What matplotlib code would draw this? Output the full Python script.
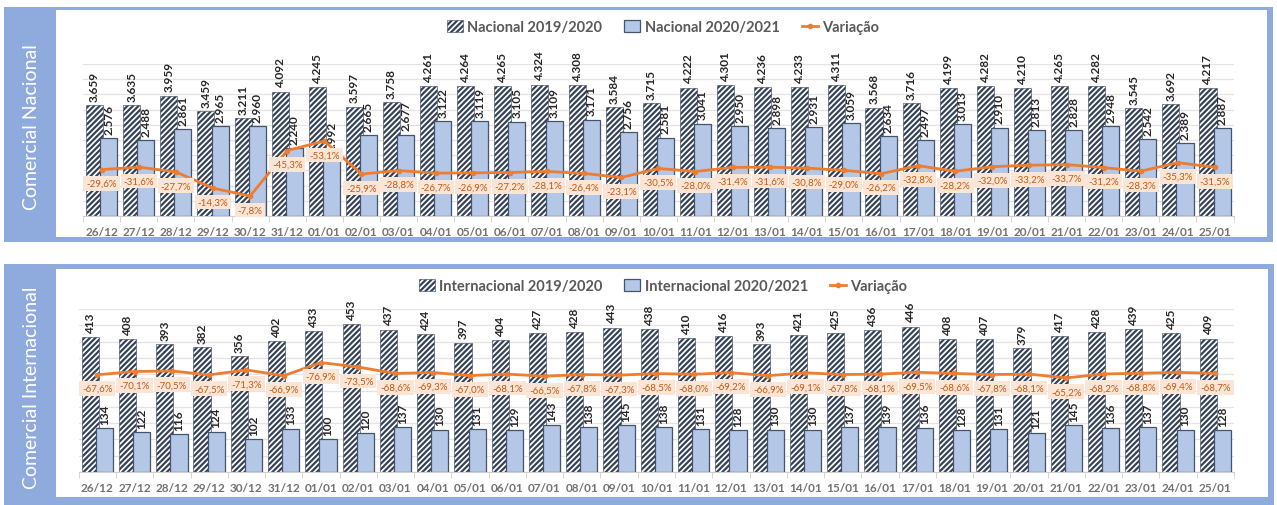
import matplotlib
matplotlib.use("Agg")
import matplotlib.pyplot as plt
import matplotlib.patches as mpatches
from matplotlib.lines import Line2D
import numpy as np

plt.rcParams['font.family'] = ['Lato', 'DejaVu Sans']
plt.rcParams['hatch.linewidth'] = 1.6

datas = ['26/12', '27/12', '28/12', '29/12', '30/12', '31/12', '01/01', '02/01', '03/01',
         '04/01', '05/01', '06/01', '07/01', '08/01', '09/01', '10/01', '11/01', '12/01',
         '13/01', '14/01', '15/01', '16/01', '17/01', '18/01', '19/01', '20/01', '21/01',
         '22/01', '23/01', '24/01', '25/01']

nac_1920 = [3659, 3635, 3959, 3459, 3211, 4092, 4245, 3597, 3758, 4261, 4264, 4265, 4324,
            4308, 3584, 3715, 4222, 4301, 4236, 4233, 4311, 3568, 3716, 4199, 4282, 4210,
            4265, 4282, 3545, 3692, 4217]
nac_2021 = [2576, 2488, 2861, 2965, 2960, 2240, 1992, 2665, 2677, 3122, 3119, 3105, 3109,
            3171, 2756, 2581, 3041, 2950, 2898, 2931, 3059, 2634, 2497, 3013, 2910, 2813,
            2828, 2948, 2542, 2389, 2887]
nac_var = [-29.6, -31.6, -27.7, -14.3, -7.8, -45.3, -53.1, -25.9, -28.8, -26.7, -26.9, -27.2,
           -28.1, -26.4, -23.1, -30.5, -28.0, -31.4, -31.6, -30.8, -29.0, -26.2, -32.8, -28.2,
           -32.0, -33.2, -33.7, -31.2, -28.3, -35.3, -31.5]

int_1920 = [413, 408, 393, 382, 356, 402, 433, 453, 437, 424, 397, 404, 427, 428, 443, 438,
            410, 416, 393, 421, 425, 436, 446, 408, 407, 379, 417, 428, 439, 425, 409]
int_2021 = [134, 122, 116, 124, 102, 133, 100, 120, 137, 130, 131, 129, 143, 138, 145, 138,
            131, 128, 130, 130, 137, 139, 136, 128, 131, 121, 145, 136, 137, 130, 128]
int_var = [-67.6, -70.1, -70.5, -67.5, -71.3, -66.9, -76.9, -73.5, -68.6, -69.3, -67.0, -68.1,
           -66.5, -67.8, -67.3, -68.5, -68.0, -69.2, -66.9, -69.1, -67.8, -68.1, -69.5, -68.6,
           -67.8, -68.1, -65.2, -68.2, -68.8, -69.4, -68.7]

W, H = 1277, 506
FRAME = '#8FAADC'
HATCH_C = '#354257'
BLUE = '#B4C7E7'
ORANGE = '#ED7D31'

fig = plt.figure(figsize=(W / 100, H / 100), dpi=100)


def px_rect(x0, y0, x1, y1, color):
    fig.add_artist(mpatches.Rectangle((x0 / W, 1 - y1 / H), (x1 - x0) / W, (y1 - y0) / H,
                                      transform=fig.transFigure, facecolor=color,
                                      edgecolor='none', zorder=0))


def fmt_num(v):
    return f"{v:,}".replace(",", ".")


def fmt_pct(v):
    return f"{v:.1f}%".replace(".", ",")


def painel(box, y_max, y_step, var_lim, anterior, atual, var, titulo, frame_px, white_px):
    px_rect(*frame_px, FRAME)
    px_rect(*white_px, 'white')
    fx0, fy0, fx1, fy1 = frame_px
    fig.text(32 / W, 1 - ((fy0 + fy1) / 2 + 2) / H, titulo, rotation=90, color='white',
             fontsize=14, ha='center', va='center')

    ax = fig.add_axes(box)
    ax.set_facecolor('none')
    x = np.arange(len(datas))
    b1 = ax.bar(x - 0.19, anterior, width=0.46, facecolor='white', edgecolor=HATCH_C,
                hatch='//////', linewidth=0.4, zorder=2)
    b2 = ax.bar(x + 0.19, atual, width=0.46, facecolor=BLUE, edgecolor='#44546A',
                linewidth=0.9, zorder=3)
    ax.set_ylim(0, y_max)
    ax.set_xlim(-0.5, len(datas) - 0.5)
    ax.set_yticks(np.arange(0, y_max + 1, y_step))
    ax.yaxis.grid(True, color='#E3E3E3', linewidth=0.9)
    ax.set_axisbelow(True)
    for s in ['top', 'right', 'left']:
        ax.spines[s].set_visible(False)
    ax.spines['bottom'].set_color('#D0D0D0')
    ax.set_xticks(x)
    ax.set_xticklabels(datas, fontsize=8.5, fontweight='bold', color='#767171')
    ax.tick_params(axis='x', length=0, pad=7)
    ax.set_xticks(np.arange(-0.5, len(datas), 1), minor=True)
    ax.tick_params(axis='x', which='minor', length=4, color='#D0D0D0')

    for rect, v in zip(b1, anterior):
        ax.annotate(fmt_num(v), (rect.get_x() + rect.get_width() / 2, rect.get_height()),
                    xytext=(0, 3), textcoords='offset points', rotation=90, ha='center',
                    va='bottom', fontsize=8.5, fontweight='bold', color='#262626')
    for rect, v in zip(b2, atual):
        ax.annotate(fmt_num(v), (rect.get_x() + rect.get_width() / 2, rect.get_height()),
                    xytext=(0, 3), textcoords='offset points', rotation=90, ha='center',
                    va='bottom', fontsize=8.5, fontweight='bold', color='#262626')

    ax2 = ax.twinx()
    ax2.plot(x, var, color=ORANGE, linewidth=2, marker='o', markersize=3, zorder=4)
    ax2.set_ylim(*var_lim)
    ax2.axis('off')
    ax.tick_params(axis='y', which='both', left=False, right=False,
                   labelleft=False, labelright=False)
    for xi, v in zip(x, var):
        ax2.annotate(fmt_pct(v), (xi, v), xytext=(0, -10), textcoords='offset points',
                     ha='center', va='center', fontsize=7, color='#C55A11', zorder=6,
                     bbox=dict(boxstyle='square,pad=0.3', facecolor='#FBE5D6',
                               edgecolor='none'))

    handles = [mpatches.Patch(facecolor='white', edgecolor=HATCH_C, hatch='//////',
                              linewidth=0.4),
               mpatches.Patch(facecolor=BLUE, edgecolor='#44546A', linewidth=0.9),
               Line2D([], [], color=ORANGE, linewidth=2, marker='o', markersize=3)]
    return handles


h1 = painel([83.1 / W, 1 - 217 / H, 1150.5 / W, 152 / H], 5000, 500, (8.6, -116.5),
            nac_1920, nac_2021, nac_var, 'Comercial Nacional',
            (4, 8, 1273, 243), (56, 11, 1267, 238))
fig.legend(h1, ['Nacional 2019/2020', 'Nacional 2020/2021', 'Variação'], loc='center',
           bbox_to_anchor=(663 / W, 1 - 28 / H), ncol=3, frameon=False,
           prop={'weight': 'bold', 'size': 10.5}, labelcolor='#595959',
           handlelength=1.1, handleheight=0.8, handletextpad=0.3, columnspacing=1.5)

h2 = painel([78.7 / W, 1 - 473 / H, 1155.3 / W, 163 / H], 500, 50, (6.6, -117.8),
            int_1920, int_2021, int_var, 'Comercial Internacional',
            (4, 265, 1274, 506), (56, 270, 1268, 498))
fig.legend(h2, ['Internacional 2019/2020', 'Internacional 2020/2021', 'Variação'],
           loc='center', bbox_to_anchor=(663 / W, 1 - 287 / H), ncol=3, frameon=False,
           prop={'weight': 'bold', 'size': 10.5}, labelcolor='#595959',
           handlelength=1.1, handleheight=0.8, handletextpad=0.3, columnspacing=1.5)

fig.savefig('out.png', dpi=100)
